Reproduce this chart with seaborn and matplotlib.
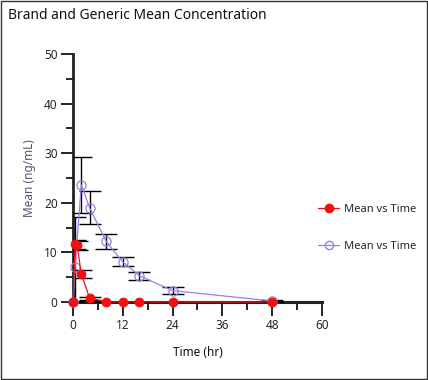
import matplotlib
matplotlib.use("Agg")
import matplotlib.pyplot as plt
import numpy as np
import pandas as pd
import seaborn as sns
from matplotlib.patches import Rectangle
from matplotlib.lines import Line2D
from matplotlib.ticker import MultipleLocator

# brand series (red)
brand_time = [0, 0.5, 1, 2, 4, 8, 12, 16, 24, 48]
brand_mean = [0, 11.6, 11.4, 5.6, 0.8, 0, 0, 0, 0, 0]
brand_sd = [0, 0.9, 0.9, 0.8, 0.3, 0, 0, 0, 0, 0]

# generic series (purple)
generic_time = [0, 0.5, 2, 4, 8, 12, 16, 24, 48]
generic_mean = [0, 7.0, 23.6, 19.0, 12.2, 8.1, 5.3, 2.3, 0.2]
generic_sd = [0, 10.1, 5.7, 3.3, 1.6, 0.9, 0.8, 0.7, 0.2]

legend_labels = ["Mean vs Time", "Mean vs Time"]

red = "#ee1111"
purple = "#9b7fe6"

sns.set_style("white")
plt.rcParams['font.family'] = ['Noto Sans', 'DejaVu Sans']

fig = plt.figure(figsize=(4.28, 3.80), dpi=100)
ax = fig.add_axes([0.1706, 0.2053, 0.752 - 0.1706, 0.858 - 0.2053])

df_b = pd.DataFrame({"t": brand_time, "m": brand_mean, "sd": brand_sd})
df_g = pd.DataFrame({"t": generic_time, "m": generic_mean, "sd": generic_sd})

# error bars (clipped at the axes like the original)
ax.errorbar(df_g.t, df_g.m, yerr=df_g.sd, fmt='none', ecolor='black', elinewidth=1,
            capsize=8, capthick=1, zorder=2)
ax.errorbar(df_b.t, df_b.m, yerr=df_b.sd, fmt='none', ecolor='black', elinewidth=1,
            capsize=8, capthick=1, zorder=2)

sns.lineplot(data=df_g, x="t", y="m", ax=ax, color=purple, lw=0.9, marker='o',
             markersize=6.6, markerfacecolor='none', markeredgecolor=purple,
             markeredgewidth=0.9, zorder=3, clip_on=False, legend=False)
sns.lineplot(data=df_b, x="t", y="m", ax=ax, color=red, lw=0.9, marker='o',
             markersize=6.3, markerfacecolor=red, markeredgecolor=red,
             zorder=4, clip_on=False, legend=False)

ax.set_xlim(0, 60)
ax.set_ylim(0, 50)
ax.xaxis.set_major_locator(MultipleLocator(12))
ax.xaxis.set_minor_locator(MultipleLocator(6))
ax.yaxis.set_major_locator(MultipleLocator(10))
ax.yaxis.set_minor_locator(MultipleLocator(5))

for s in ['top', 'right']:
    ax.spines[s].set_visible(False)
ax.spines['left'].set_linewidth(2)
ax.spines['bottom'].set_linewidth(2.2)
ax.spines['left'].set_color('#222222')
ax.spines['bottom'].set_color('#222222')
ax.spines['left'].set_zorder(1)
ax.spines['bottom'].set_zorder(1)

ax.tick_params(which='major', direction='out', length=9, width=1.2, color='black',
               labelsize=8.5, pad=2, bottom=True, left=True)
ax.tick_params(which='minor', direction='out', length=5, width=1.2, color='black',
               bottom=True, left=True)
ax.tick_params(axis='x', which='major', length=10)
ax.tick_params(axis='x', which='minor', length=6)

ax.set_xlabel("Time (hr)", fontsize=8.5, color='#111111', labelpad=10)
ax.set_ylabel("Mean (ng/mL)", fontsize=8.5, color='#5a5068', labelpad=6, fontweight='bold')

handles = [
    Line2D([0], [0], color=red, lw=0.9, marker='o', markersize=6,
           markerfacecolor=red, markeredgecolor=red),
    Line2D([0], [0], color=purple, lw=0.9, marker='o', markersize=6,
           markerfacecolor='none', markeredgecolor=purple),
]
fig.legend(handles, legend_labels, loc='center left', bbox_to_anchor=(0.72, 0.4),
           frameon=False, fontsize=8, labelspacing=2.3, handlelength=1.9,
           handletextpad=0.4)

fig.text(0.019, 0.96, "Brand and Generic Mean Concentration", fontsize=10,
         va='center', ha='left', color='#111111')

fig.patches.append(Rectangle((0.0015, 0.002), 0.996, 0.995, transform=fig.transFigure,
                             fill=False, edgecolor='#333333', lw=1))

fig.savefig("out.png", dpi=100)
